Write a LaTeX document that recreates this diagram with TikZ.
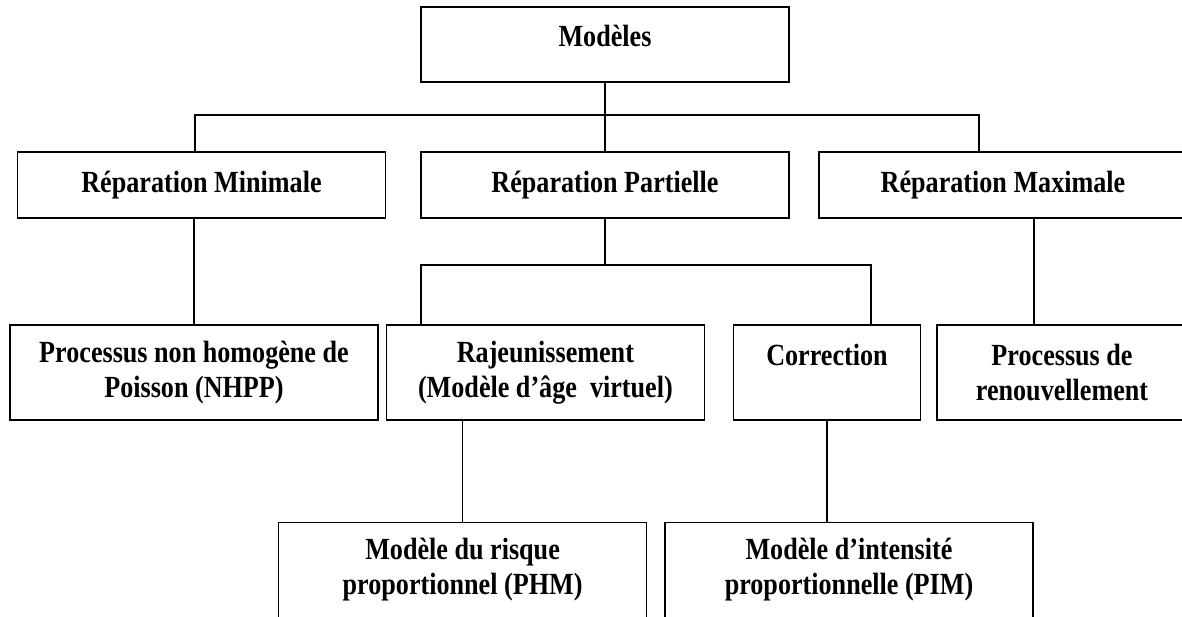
\documentclass[tikz,border=0pt]{standalone}
\usepackage{fontspec}
\setmainfont{Liberation Serif}[FakeStretch=0.85]
\usepackage{tikz}

\begin{document}
\begin{tikzpicture}[x=0.02cm, y=-0.02cm,
  every node/.style={draw, line width=0.9pt, align=center, inner sep=0pt,
    minimum width=7.36cm, font=\fontsize{17.5}{20}\selectfont\bfseries},
  topbox/.style={minimum height=1.5cm, text depth=10pt},
  midbox/.style={minimum height=1.32cm},
  lowbox/.style={minimum height=1.9cm},
  link/.style={line width=0.7pt}
]
\useasboundingbox (0,0) rectangle (1182,617);
\clip (0,0) rectangle (1182,617);

\node[topbox] (mod) at (605,44.5) {Modèles};

\node[midbox] (repmin) at (201.5,185) {Réparation Minimale};
\node[midbox] (reppar) at (605,185) {Réparation Partielle};
\node[midbox] (repmax) at (1003,185) {Réparation Maximale};

\node[lowbox] (nhpp) at (194,372.5) {Processus non homogène de\\Poisson (NHPP)};
\node[lowbox, minimum width=6.36cm] (raj) at (545.4,372.5) {Rajeunissement\\(Modèle d’âge\ \ virtuel)};
\node[lowbox, minimum width=3.74cm] (corr) at (827,372.5) {Correction\\\mbox{}};
\node[lowbox, minimum width=5cm] (renouv) at (1062,372.5) {Processus de\\renouvellement};

\node[lowbox] (phm) at (462.6,570) {Modèle du risque\\proportionnel (PHM)};
\node[lowbox] (pim) at (849,570) {Modèle d’intensité\\proportionnelle (PIM)};

% bus lines
\coordinate (bus1l) at (195,115);
\coordinate (bus1r) at (979,115);
\coordinate (bus2l) at (421,265);
\coordinate (bus2r) at (871,265);
\coordinate (drop) at (1034,0);

\draw[link] (mod.south) -- (reppar.north);
\draw[link] (bus1l |- repmin.north) -- (bus1l) -- (bus1r) -- (bus1r |- repmax.north);
\draw[link] (reppar.south) -- (reppar.south |- bus2l);
\draw[link] (bus2l |- raj.north) -- (bus2l) -- (bus2r) -- (bus2r |- corr.north);
\draw[link] (nhpp.north) -- (nhpp.north |- repmin.south);
\draw[link] (drop |- repmax.south) -- (drop |- renouv.north);
\draw[link] (phm.north) -- (phm.north |- raj.south);
\draw[link] (corr.south) -- (corr.south |- pim.north);
\end{tikzpicture}
\end{document}
